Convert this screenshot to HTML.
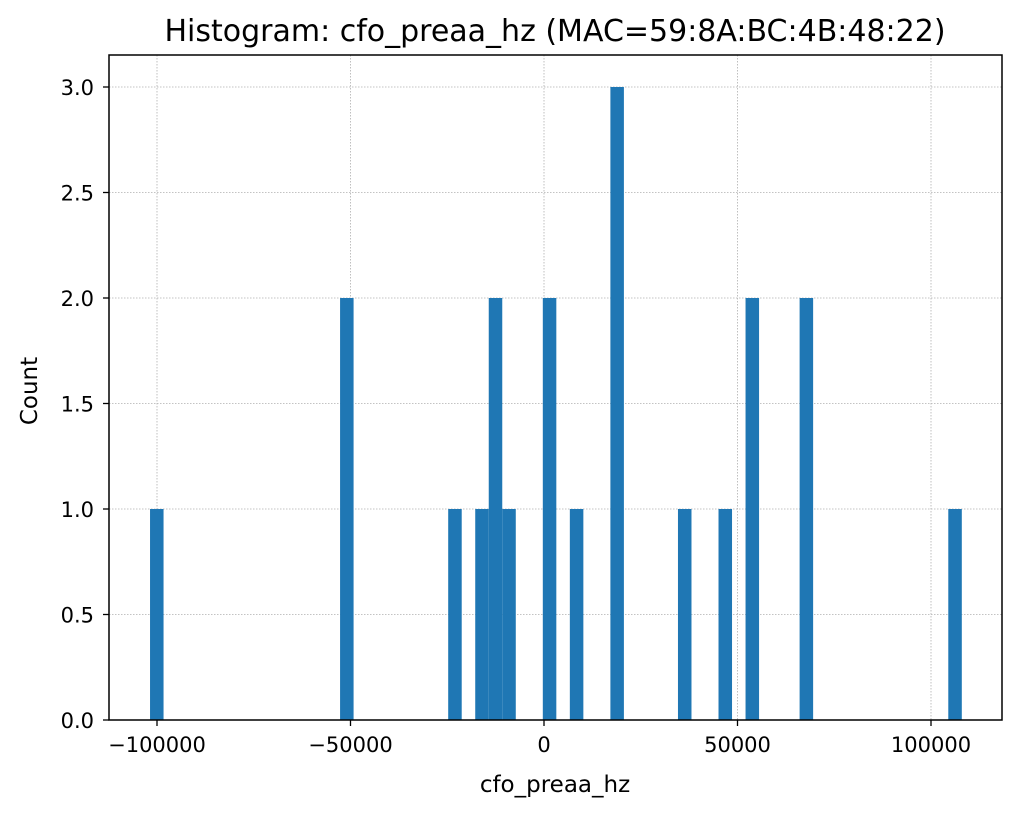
<!DOCTYPE html>
<html><head><meta charset="utf-8"><style>
html,body{margin:0;padding:0;background:#fff;}
svg{display:block;font-family:"DejaVu Sans","Liberation Sans",sans-serif;}
</style></head><body>
<svg id="chart" width="1020" height="815" viewBox="0 0 1020 815" xmlns="http://www.w3.org/2000/svg">
<rect width="1020" height="815" fill="#fff"/>
<g id="grid"></g>
<g id="bars"></g>
<g id="axes"></g>
<text x="555" y="41" text-anchor="middle" font-size="30" fill="#000">Histogram: cfo_preaa_hz (MAC=59:8A:BC:4B:48:22)</text>
<text x="555" y="792" text-anchor="middle" font-size="23" fill="#000">cfo_preaa_hz</text>
<text transform="translate(37,391) rotate(-90)" text-anchor="middle" font-size="23" fill="#000">Count</text>
</svg>
<script>
const binCenters = [-100054, -50949, -23009, -16024, -12532, -9039, 1438, 8423, 18901, 36363, 46840, 53825, 67795, 106213];
const counts = [1, 2, 1, 1, 2, 1, 2, 1, 3, 1, 1, 2, 2, 1];
const binWidth = 3492.5;
const xTicks = [-100000, -50000, 0, 50000, 100000];
const xTickLabels = ["\u2212100000", "\u221250000", "0", "50000", "100000"];
const yTicks = [0, 0.5, 1, 1.5, 2, 2.5, 3];
const yTickLabels = ["0.0", "0.5", "1.0", "1.5", "2.0", "2.5", "3.0"];

const L = 109, R = 1002, T = 55, B = 720;
function xs(v){ return 544 + v * 0.00387; }
function ys(v){ return B - v * 211; }
const NS = "http://www.w3.org/2000/svg";
function mk(tag, attrs, parent){
  const e = document.createElementNS(NS, tag);
  for (const k in attrs) e.setAttribute(k, attrs[k]);
  parent.appendChild(e);
  return e;
}
const grid = document.getElementById('grid');
const bars = document.getElementById('bars');
const axes = document.getElementById('axes');

xTicks.forEach((t, i) => {
  const x = xs(t);
  const g = mk('line', {x1:x, x2:x, y1:T, y2:B, stroke:'#b0b0b0', 'stroke-width':0.8, 'stroke-dasharray':'1.5,1.5'}, grid);
  
  
  const tk = mk('line', {x1:x, x2:x, y1:B, y2:B+6, stroke:'#000', 'stroke-width':1.3}, axes);
  
  
  const tx = mk('text', {x:x, y:B+32, 'text-anchor':'middle', 'font-size':21, fill:'#000'}, axes);
  tx.textContent = xTickLabels[i];
  
  
});
yTicks.forEach((t, i) => {
  const y = ys(t);
  const g = mk('line', {x1:L, x2:R, y1:y, y2:y, stroke:'#b0b0b0', 'stroke-width':0.8, 'stroke-dasharray':'1.5,1.5'}, grid);
  
  
  const tk = mk('line', {x1:L-6, x2:L, y1:y, y2:y, stroke:'#000', 'stroke-width':1.3}, axes);
  
  
  const tx = mk('text', {x:L-15, y:y+8, 'text-anchor':'end', 'font-size':21, fill:'#000'}, axes);
  tx.textContent = yTickLabels[i];
  
  
});
binCenters.forEach((c, i) => {
  const x0 = xs(c - binWidth/2), x1 = xs(c + binWidth/2);
  const r = mk('rect', {x:x0, y:ys(counts[i]), width:x1-x0, height:B-ys(counts[i]), fill:'#1f77b4'}, bars);
  
  
});
const frame = mk('rect', {x:L, y:T, width:R-L, height:B-T, fill:'none', stroke:'#000', 'stroke-width':1.5}, axes);


</script>
</body></html>
